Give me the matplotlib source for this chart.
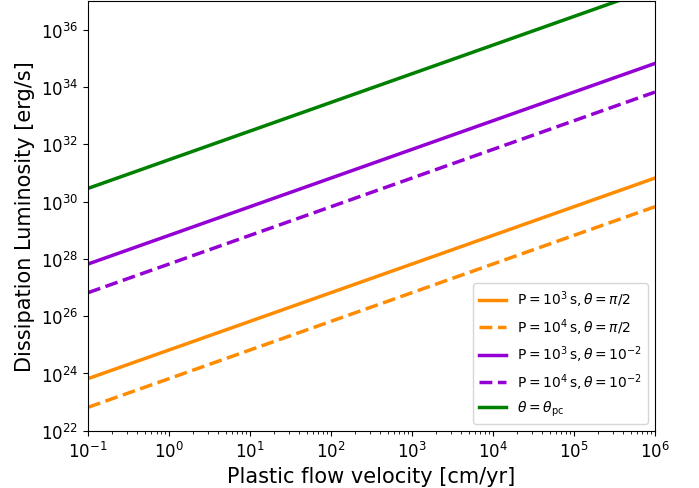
import numpy as np
import matplotlib.pyplot as plt
import matplotlib.ticker as mticker

# Endpoints of each power-law line
velocity = [1e-1, 1e6]                      # cm/yr
L_p3_half = [10**23.82, 10**30.82]          # P=1e3 s, theta=pi/2
L_p4_half = [10**22.82, 10**29.82]          # P=1e4 s, theta=pi/2
L_p3_small = [10**27.82, 10**34.82]         # P=1e3 s, theta=1e-2
L_p4_small = [10**26.82, 10**33.82]         # P=1e4 s, theta=1e-2
L_pc = [10**30.46, 10**37.46]               # theta=theta_pc

fig = plt.figure(figsize=(6.99, 4.89), dpi=100)
ax = fig.add_axes([0.126, 0.117, 0.811, 0.879])

ax.plot(velocity, L_p3_half, color="darkorange", lw=2.5,
        label=r"$\mathrm{P}=10^3\,\mathrm{s},\theta=\pi/2$")
ax.plot(velocity, L_p4_half, color="darkorange", lw=2.5, ls="--",
        label=r"$\mathrm{P}=10^4\,\mathrm{s},\theta=\pi/2$")
ax.plot(velocity, L_p3_small, color="darkviolet", lw=2.5,
        label=r"$\mathrm{P}=10^3\,\mathrm{s},\theta=10^{-2}$")
ax.plot(velocity, L_p4_small, color="darkviolet", lw=2.5, ls="--",
        label=r"$\mathrm{P}=10^4\,\mathrm{s},\theta=10^{-2}$")
ax.plot(velocity, L_pc, color="green", lw=2.5,
        label=r"$\theta=\theta_{\mathrm{pc}}$")

ax.set_xscale("log")
ax.set_yscale("log")
ax.set_xlim(1e-1, 1e6)
ax.set_ylim(1e22, 1e37)

ax.xaxis.set_major_locator(mticker.LogLocator(base=10, numticks=20))
ax.xaxis.set_minor_locator(mticker.LogLocator(base=10, subs=np.arange(2, 10), numticks=20))
ax.yaxis.set_major_locator(mticker.FixedLocator([10.0**k for k in range(22, 37, 2)]))
ax.yaxis.set_minor_locator(mticker.NullLocator())

ax.tick_params(labelsize=12)
ax.set_xlabel("Plastic flow velocity [cm/yr]", fontsize=15)
ax.set_ylabel("Dissipation Luminosity [erg/s]", fontsize=15)
ax.legend(loc="lower right", fontsize=10)

fig.savefig("out.png", dpi=100)
